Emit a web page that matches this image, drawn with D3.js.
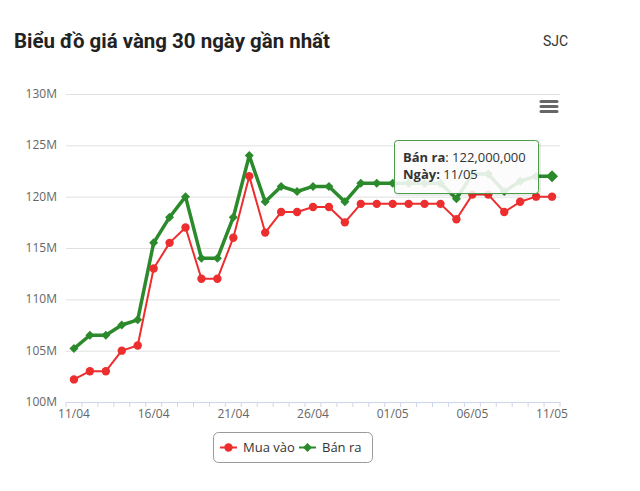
<!DOCTYPE html>
<html>
<head>
<meta charset="utf-8">
<script src="https://cdn.jsdelivr.net/npm/d3@7"></script>
<style>
  html, body { margin: 0; padding: 0; background: #fff; }
  svg { display: block; }
</style>
</head>
<body>
<svg id="chart" width="640" height="491"></svg>
<script>
// ---- Data (values in millions VND) ----
const dates = ["11/04","12/04","13/04","14/04","15/04","16/04","17/04","18/04","19/04","20/04",
               "21/04","22/04","23/04","24/04","25/04","26/04","27/04","28/04","29/04","30/04",
               "01/05","02/05","03/05","04/05","05/05","06/05","07/05","08/05","09/05","10/05","11/05"];
const muaVao = [102.2,103,103,105,105.5,113,115.5,117,112,112,
                116,122,116.5,118.5,118.5,119,119,117.5,119.3,119.3,
                119.3,119.3,119.3,119.3,117.8,120.2,120.2,118.5,119.5,120,120];
const banRa  = [105.2,106.5,106.5,107.5,108,115.5,118,120,114,114,
                118,124,119.5,121,120.5,121,121,119.5,121.3,121.3,
                121.3,121.3,121.3,121.3,119.8,122.2,122.2,120.5,121.5,122,122];
const yTicks = [100,105,110,115,120,125,130];
const xLabelEvery = 5;
const seriesNames = ["Mua vào","Bán ra"];
const titleText = "Biểu đồ giá vàng 30 ngày gần nhất";
const tooltipLines = [["Bán ra", ": 122,000,000"], ["Ngày:", " 11/05"]];

// ---- Layout ----
const svg = d3.select("#chart");
const plot = {left: 66, right: 560, top: 94, bottom: 402};
const RED = "#ec2e2e", GREEN = "#2b8a2b";
const FONT = "'Open Sans', 'DejaVu Sans', sans-serif";

const x = d3.scaleBand().domain(dates).range([plot.left, plot.right]).padding(0);
const y = d3.scaleLinear().domain([100,130]).range([plot.bottom, plot.top]);
const cx = d => x(d) + x.bandwidth()/2;

// Title
const title = svg.append("text")
  .attr("x", 14).attr("y", 48)
  .attr("font-family", "Roboto, 'Noto Sans', sans-serif")
  .attr("font-weight", "bold").attr("font-size", 20)
  .attr("fill", "#222").text(titleText);
title.attr("textLength", 316).attr("lengthAdjust", "spacingAndGlyphs");

svg.append("text").attr("x", 543).attr("y", 46)
  .attr("font-family", "Roboto, 'Noto Sans', sans-serif")
  .attr("font-size", 14).attr("fill", "#333").text("SJC");

// Gridlines + y labels
const yAxis = d3.axisLeft(y).tickValues(yTicks).tickSize(-(plot.right - plot.left))
  .tickFormat(d => d + "M").tickPadding(9);
const gy = svg.append("g").attr("transform", `translate(${plot.left},0)`).call(yAxis);
gy.select(".domain").remove();
gy.selectAll(".tick line").attr("stroke", "#e0e0e0").attr("stroke-width", 1);
gy.selectAll(".tick text").attr("font-family", FONT).attr("font-size", 12)
  .attr("fill", "#666").attr("dy", "0.3em");

// X axis
const xAxis = d3.axisBottom(x)
  .tickFormat((d,i) => i % xLabelEvery === 0 ? d : "")
  .tickSize(0).tickPadding(7);
const gx = svg.append("g").attr("transform", `translate(0,${plot.bottom})`).call(xAxis);
gx.select(".domain").attr("stroke", "#ccd6eb");
gx.selectAll(".tick text").attr("font-family", FONT).attr("font-size", 12)
  .attr("fill", "#666").attr("dy", "0.72em");
// tick marks at band boundaries
const bounds = dates.map(d => x(d)).concat([plot.right]);
svg.append("g").selectAll("line").data(bounds).join("line")
  .attr("x1", d => d).attr("x2", d => d)
  .attr("y1", plot.bottom).attr("y2", plot.bottom + 5)
  .attr("stroke", "#ccd6eb").attr("stroke-width", 1);

// Lines
const line = vals => d3.line().x((d,i) => cx(dates[i])).y(d => y(d))(vals);
svg.append("path").attr("d", line(muaVao)).attr("fill", "none")
  .attr("stroke", RED).attr("stroke-width", 2).attr("stroke-linejoin", "round");
svg.append("path").attr("d", line(banRa)).attr("fill", "none")
  .attr("stroke", GREEN).attr("stroke-width", 3.5).attr("stroke-linejoin", "round");

// Markers
svg.append("g").selectAll("circle").data(muaVao).join("circle")
  .attr("cx", (d,i) => cx(dates[i])).attr("cy", d => y(d)).attr("r", 4.2).attr("fill", RED);
const diamond = (px, py, r) => `M${px},${py-r}L${px+r},${py}L${px},${py+r}L${px-r},${py}Z`;
svg.append("g").selectAll("path").data(banRa).join("path")
  .attr("d", (d,i) => diamond(cx(dates[i]), y(d), 4.5)).attr("fill", GREEN);
// hovered point
const lastI = dates.length - 1;
svg.append("path").attr("d", diamond(cx(dates[lastI]), y(banRa[lastI]), 6)).attr("fill", GREEN);

// Menu icon
[101.5, 106.5, 111.5].forEach(yy => {
  svg.append("line").attr("x1", 541).attr("x2", 557).attr("y1", yy).attr("y2", yy)
    .attr("stroke", "#666").attr("stroke-width", 3).attr("stroke-linecap", "round");
});

// Tooltip
const tt = svg.append("g").attr("transform", "translate(394.5,140.5)");
tt.append("rect").attr("x", 1).attr("y", 1).attr("width", 144).attr("height", 53).attr("rx", 3)
  .attr("fill", "none").attr("stroke", "rgba(0,0,0,0.08)").attr("stroke-width", 3);
tt.append("rect").attr("width", 144).attr("height", 53).attr("rx", 3)
  .attr("fill", "rgba(252,252,252,0.88)").attr("stroke", "#4a9e4a").attr("stroke-width", 1);
tooltipLines.forEach((ln, i) => {
  const t = tt.append("text").attr("x", 8.5).attr("y", 21.5 + i * 16.5)
    .attr("font-family", FONT).attr("font-size", 13).attr("fill", "#333");
  t.append("tspan").attr("font-weight", "bold").text(ln[0]);
  t.append("tspan").text(ln[1]);
});

// Legend
const lg = svg.append("g");
lg.append("rect").attr("x", 213.5).attr("y", 432.5).attr("width", 159).attr("height", 30).attr("rx", 5)
  .attr("fill", "#fff").attr("stroke", "#999").attr("stroke-width", 1);
const legendItems = [
  {name: seriesNames[0], color: RED, x: 220, shape: "circle", w: 2},
  {name: seriesNames[1], color: GREEN, x: 299, shape: "diamond", w: 2}
];
legendItems.forEach(it => {
  const ly = 447.5;
  lg.append("line").attr("x1", it.x).attr("x2", it.x + 17).attr("y1", ly).attr("y2", ly)
    .attr("stroke", it.color).attr("stroke-width", it.w);
  if (it.shape === "circle") {
    lg.append("circle").attr("cx", it.x + 8.5).attr("cy", ly).attr("r", 4.2).attr("fill", it.color);
  } else {
    lg.append("path").attr("d", diamond(it.x + 8.5, ly, 4.5)).attr("fill", it.color);
  }
  lg.append("text").attr("x", it.x + 23).attr("y", ly + 4.5)
    .attr("font-family", FONT).attr("font-size", 13).attr("fill", "#333").text(it.name);
});
</script>
</body>
</html>
